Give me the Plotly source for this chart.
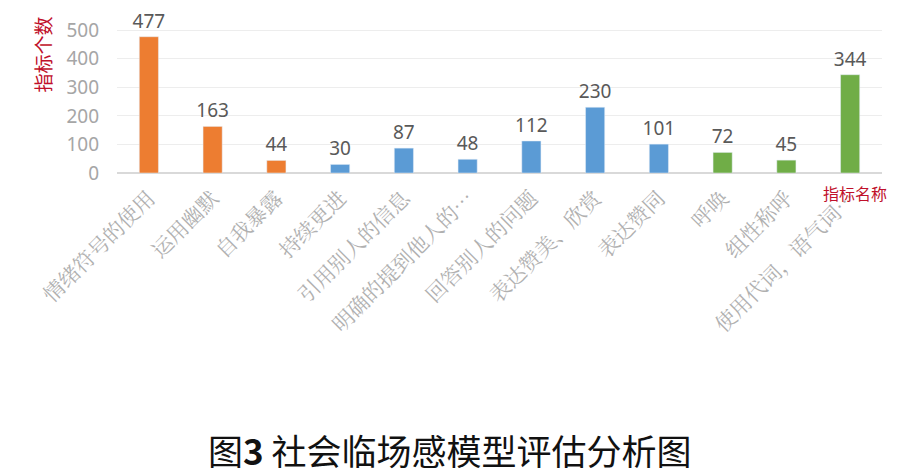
import plotly.graph_objects as go

categories = ["情绪符号的使用", "运用幽默", "自我暴露", "持续更进", "引用别人的信息",
              "明确的提到他人的…", "回答别人的问题", "表达赞美、欣赏", "表达赞同",
              "呼唤", "组性称呼", "使用代词，语气词…"]
values = [477, 163, 44, 30, 87, 48, 112, 230, 101, 72, 45, 344]
groups = ["o", "o", "o", "b", "b", "b", "b", "b", "b", "g", "g", "g"]
palette = {"o": "#ED7D31", "b": "#5B9BD5", "g": "#70AD47"}
y_ticks = [0, 100, 200, 300, 400, 500]

fig = go.Figure(go.Bar(
    x=categories, y=values,
    marker_color=[palette[g] for g in groups],
    text=[str(v) for v in values], textposition="outside",
    constraintext="none",
    textfont=dict(size=19, color="#595959", family="Noto Sans, sans-serif"),
    cliponaxis=False, width=0.3,
))

fig.update_layout(
    width=919, height=475,
    margin=dict(l=109, r=45, t=5, b=310),
    paper_bgcolor="white", plot_bgcolor="white",
    showlegend=False,
    xaxis=dict(tickangle=-45, automargin=False, showline=False, ticks="",
               ticklabelstandoff=8,
               tickfont=dict(size=21, color="#B0B0B0", family="Noto Serif CJK SC, Noto Sans CJK SC, serif")),
    yaxis=dict(range=[0, 560], tickvals=y_ticks, automargin=False,
               gridcolor="#EDEDED", zeroline=True, zerolinecolor="#D9D9D9",
               ticklabelstandoff=17,
               tickfont=dict(size=19, color="#A6A6A6", family="Noto Sans, sans-serif")),
    annotations=[
        dict(text="指标个数", xref="paper", yref="paper", x=-0.097, y=0.99, yanchor="top",
             xanchor="center", textangle=-90, showarrow=False,
             font=dict(size=19, color="#C0102A", family="Noto Sans CJK SC")),
        dict(text="指标名称", xref="paper", yref="paper", x=0.965, y=-0.035, yanchor="top",
             xanchor="center", showarrow=False,
             font=dict(size=16, color="#C0102A", family="Noto Sans CJK SC")),
        dict(text="图<b>3</b> 社会临场感模型评估分析图", xref="paper", yref="paper",
             x=0.435, y=-1.73, xanchor="center", yanchor="middle", showarrow=False,
             font=dict(size=35, color="#111111", family="Noto Sans CJK SC")),
    ],
    shapes=[
        dict(type="line", xref="paper", yref="paper", x0=1.04, x1=1.04, y0=1.07, y1=-1.48,
             line=dict(color="#EEEEEE", width=2)),
    ],
)

fig.write_html("out.html")
